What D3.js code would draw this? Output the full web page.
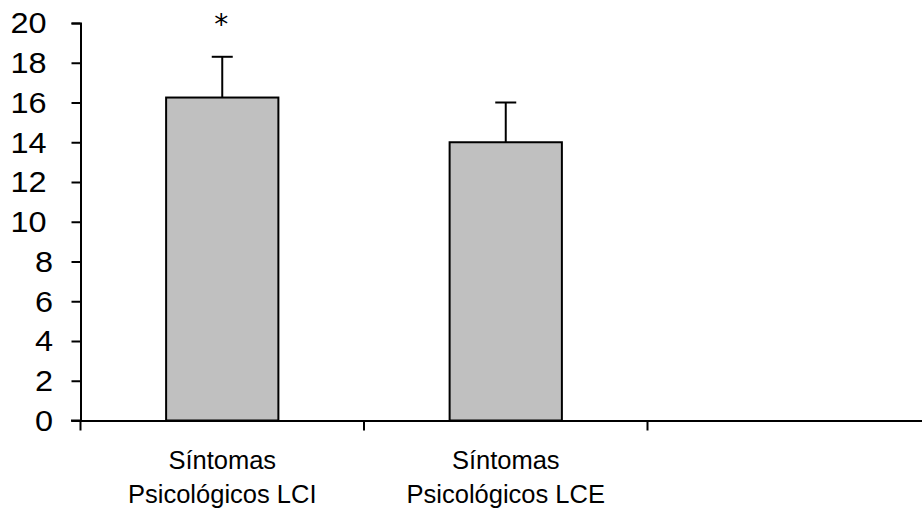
<!DOCTYPE html>
<html><head><meta charset="utf-8">
<script src="https://cdn.jsdelivr.net/npm/d3@7"></script>
<style>
body{margin:0;background:#fff;}
text{font-family:"Liberation Sans",Arial,sans-serif;fill:#000;}
</style></head>
<body><svg id="c" width="922" height="510"></svg>
<script>
const categories = ["Síntomas|Psicológicos LCI", "Síntomas|Psicológicos LCE", ""];
const means = [16.25, 14.0, null];
const errors = [2.05, 2.0, null];
const significance = ["*", "", ""];
const yTicks = [0, 2, 4, 6, 8, 10, 12, 14, 16, 18, 20];

const svg = d3.select("#c");
const x = d3.scaleBand().domain(categories).range([80.5, 931]).paddingInner(0).paddingOuter(0);
const y = d3.scaleLinear().domain([0, 20]).range([420.5, 23]);
const barW = x.bandwidth() * 0.396;

// y axis
const yAxis = d3.axisLeft(y).tickValues(yTicks).tickSize(9).tickPadding(17).tickFormat(d3.format("d"));
const gy = svg.append("g").attr("transform", "translate(80.5,0)").call(yAxis);
gy.selectAll("path.domain").attr("stroke", "#000").attr("stroke-width", 2);
gy.selectAll(".tick line").attr("stroke", "#000").attr("stroke-width", 2);
const sx = 1.12;
gy.selectAll(".tick text")
  .attr("font-size", 29).attr("font-family", "Liberation Sans, Arial, sans-serif")
  .attr("x", d => (d >= 10 ? -34 : -27.5) / sx)
  .attr("dy", "0.34em")
  .attr("transform", `scale(${sx},1)`);

// bars
const data = categories.map((c, i) => ({c, m: means[i], e: errors[i], s: significance[i]})).filter(d => d.m != null);
svg.selectAll("rect.bar").data(data).enter().append("rect")
  .attr("x", d => x(d.c) + x.bandwidth()/2 - barW/2)
  .attr("width", barW)
  .attr("y", d => y(d.m))
  .attr("height", d => y(0) - y(d.m))
  .attr("fill", "#c0c0c0").attr("stroke", "#000").attr("stroke-width", 2);

// error bars
const eg = svg.selectAll("g.err").data(data).enter().append("g");
eg.append("line")
  .attr("x1", d => x(d.c) + x.bandwidth()/2).attr("x2", d => x(d.c) + x.bandwidth()/2)
  .attr("y1", d => y(d.m)).attr("y2", d => y(d.m + d.e))
  .attr("stroke", "#000").attr("stroke-width", 2);
eg.append("line")
  .attr("x1", d => x(d.c) + x.bandwidth()/2 - 10.5).attr("x2", d => x(d.c) + x.bandwidth()/2 + 10.5)
  .attr("y1", d => y(d.m + d.e)).attr("y2", d => y(d.m + d.e))
  .attr("stroke", "#000").attr("stroke-width", 2);

// significance
svg.selectAll("text.sig").data(data.filter(d => d.s)).enter().append("text")
  .attr("x", d => x(d.c) + x.bandwidth()/2 - 1).attr("y", 34)
  .attr("text-anchor", "middle").attr("font-size", 28)
  .style("font-family", "DejaVu Sans, sans-serif").attr("fill", "#222").text(d => d.s);

// x axis
const xAxis = d3.axisBottom(x).tickSize(0).tickFormat("");
const gx = svg.append("g").attr("transform", "translate(0,420.5)").call(xAxis);
gx.selectAll("path.domain").attr("stroke", "#000").attr("stroke-width", 2);
const bounds = categories.map(c => x(c));
gx.selectAll("line.bt").data(bounds).enter().append("line")
  .attr("x1", d => d).attr("x2", d => d).attr("y1", 0).attr("y2", 10)
  .attr("stroke", "#000").attr("stroke-width", 2);
svg.append("line").attr("x1", 71).attr("x2", 81).attr("y1", y(0)).attr("y2", y(0)).attr("stroke", "#000").attr("stroke-width", 2);

// category labels
categories.forEach(c => {
  if (!c) return;
  const parts = c.split("|");
  const t = svg.append("text").attr("text-anchor", "middle").attr("font-size", 25.5);
  parts.forEach((p, i) => {
    t.append("tspan").attr("x", x(c) + x.bandwidth()/2).attr("y", 469 + i * 33.5).text(p);
  });
});
</script></body></html>
